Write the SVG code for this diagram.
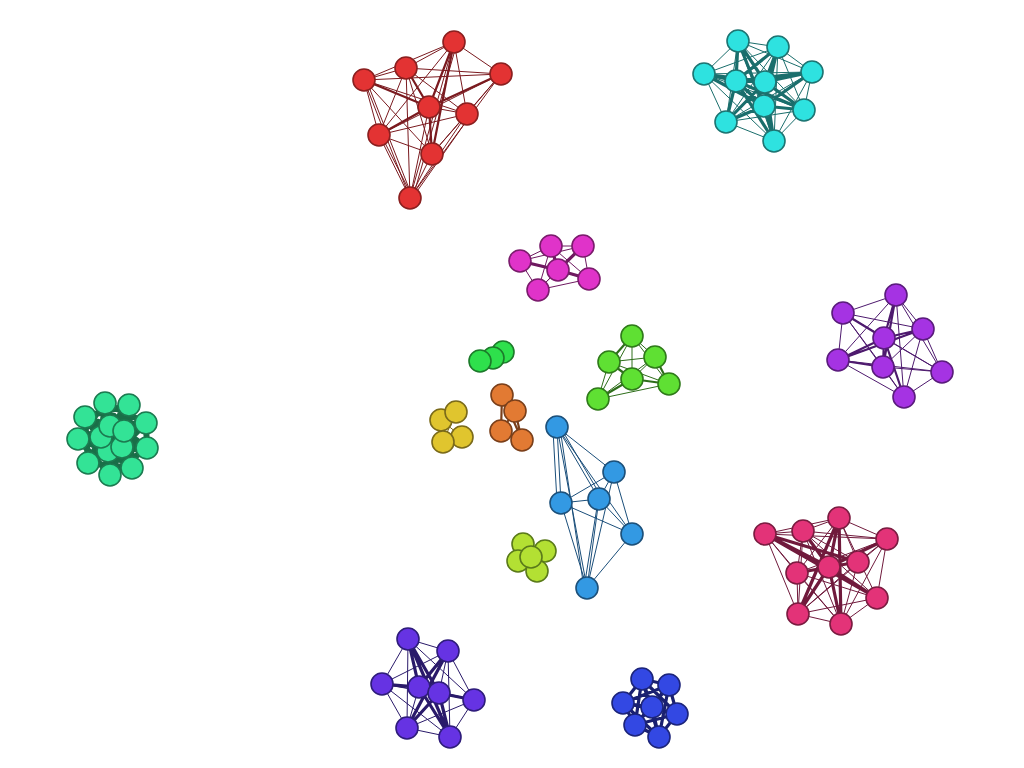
<svg xmlns="http://www.w3.org/2000/svg" width="1024" height="768" viewBox="0 0 1024 768">
<style>
circle{stroke-width:1.6}
path{fill:none;stroke-linecap:round;stroke-linejoin:round}
.red circle{fill:#e33333;stroke:#8a1f1f}
.cyan circle{fill:#2ee2e0;stroke:#1d7472}
.mag circle{fill:#e033c9;stroke:#7a1c6c}
.vio circle{fill:#a533e3;stroke:#5a1c7c}
.grn circle{fill:#2ee04c;stroke:#1c7a2a}
.yel circle{fill:#e0c52e;stroke:#7a6a1a}
.org circle{fill:#e27a33;stroke:#7a3f1a}
.lgr circle{fill:#5fe033;stroke:#2f7a1a}
.sea circle{fill:#33e396;stroke:#1c7a50}
.lbl circle{fill:#3399e3;stroke:#1c507a}
.pnk circle{fill:#e33378;stroke:#7a1c40}
.ind circle{fill:#6633e3;stroke:#2e1c7a}
.blu circle{fill:#3348e3;stroke:#1c247a}
.ygr circle{fill:#b3e033;stroke:#5a7a1a}
.e-red{stroke:#7a1a1f}
.e-cyan{stroke:#1a6e6c}
.e-mag{stroke:#6e1a60}
.e-vio{stroke:#4e1a6e}
.e-lgr{stroke:#2e6e1a}
.e-lbl{stroke:#1a4e7a}
.e-pnk{stroke:#701a3c}
.e-ind{stroke:#2a1a6a}
.e-blu{stroke:#1a2070}
.e-sea{stroke:#1a6e48}
.e-org{stroke:#7a3f1a}
.e-yel{stroke:#7a6a1a}
.t1{stroke-width:1}
.t2{stroke-width:2.2}
.t3{stroke-width:3.2}
.t5{stroke-width:6}
</style>
<rect width="1024" height="768" fill="#ffffff"/>
<g id="connectors">
<path class="e-red t1" d="M454 42L406 68M454 42L364 80M454 42L501 74M454 42L467 114M454 42L379 135M454 42L410 198M406 68L364 80M406 68L501 74M406 68L467 114M406 68L379 135M406 68L432 154M406 68L410 198M364 80L501 74M364 80L467 114M364 80L379 135M364 80L432 154M364 80L410 198M501 74L467 114M501 74L379 135M501 74L432 154M501 74L410 198M429 107L467 114M429 107L410 198M467 114L379 135M467 114L432 154M467 114L410 198M379 135L432 154M379 135L410 198M432 154L410 198M367 82L412 196M457 43L413 197M382 137L412 196M470 116L413 197"/>
<path class="e-red t2" d="M454 42L429 107M454 42L432 154M406 68L429 107M364 80L429 107M501 74L429 107M429 107L379 135M429 107L432 154"/>
<path class="e-cyan t1" d="M738 41L778 47M738 41L704 74M738 41L812 72M738 41L804 110M738 41L726 122M738 41L774 141M778 47L704 74M778 47L812 72M778 47L804 110M778 47L726 122M778 47L774 141M704 74L812 72M704 74L804 110M704 74L726 122M704 74L774 141M812 72L804 110M812 72L726 122M812 72L774 141M804 110L726 122M804 110L774 141M726 122L774 141"/>
<path class="e-cyan t3" d="M736 81L738 41M736 81L778 47M736 81L704 74M736 81L812 72M736 81L765 82M736 81L804 110M736 81L764 106M736 81L726 122M736 81L774 141M765 82L738 41M765 82L778 47M765 82L704 74M765 82L812 72M765 82L804 110M765 82L764 106M765 82L726 122M765 82L774 141M764 106L738 41M764 106L778 47M764 106L704 74M764 106L812 72M764 106L804 110M764 106L726 122M764 106L774 141"/>
<path class="e-mag t1" d="M520 261L551 246M520 261L538 290M520 261L583 246M551 246L583 246M551 246L538 290M551 246L589 279M583 246L589 279M583 246L538 290M538 290L589 279M520 261L589 279M558 270L538 290"/>
<path class="e-mag t3" d="M520 261L558 270M551 246L558 270M583 246L558 270M558 270L589 279"/>
<path class="e-vio t1" d="M896 295L843 313M896 295L923 329M896 295L838 360M896 295L942 372M896 295L904 397M843 313L923 329M843 313L838 360M843 313L942 372M843 313L904 397M923 329L838 360M923 329L883 367M923 329L942 372M923 329L904 397M838 360L942 372M838 360L904 397M883 367L942 372M883 367L904 397M942 372L904 397M884 338L942 372M843 313L883 367"/>
<path class="e-vio t2" d="M896 295L884 338M896 295L883 367M884 338L843 313M884 338L923 329M884 338L838 360M884 338L883 367M884 338L904 397M838 360L883 367M838 360L923 329"/>
<path class="e-lgr t1" d="M632 336L655 357M632 336L669 384M632 336L598 399M609 362L655 357M609 362L669 384M655 357L632 379M655 357L598 399M598 399L669 384M609 362L598 399M632 336L632 379"/>
<path class="e-lgr t2" d="M632 336L609 362M609 362L632 379M632 379L669 384M632 379L598 399M655 357L669 384"/>
<path class="e-lbl t1" d="M557 427L614 472M557 427L561 503M557 427L599 499M557 427L632 534M557 427L587 588M614 472L561 503M614 472L599 499M614 472L632 534M614 472L587 588M561 503L599 499M561 503L632 534M561 503L587 588M599 499L632 534M599 499L587 588M632 534L587 588M553 430L557 502M560 428L584 588M562 430L602 498M598 501L584 588"/>
<path class="e-pnk t1" d="M765 534L803 531M765 534L839 518M765 534L887 539M765 534L797 573M765 534L798 614M765 534L841 624M803 531L839 518M803 531L887 539M803 531L797 573M803 531L858 562M803 531L798 614M803 531L841 624M839 518L887 539M839 518L797 573M839 518L858 562M839 518L877 598M887 539L797 573M887 539L858 562M887 539L877 598M887 539L798 614M887 539L841 624M797 573L858 562M797 573L877 598M797 573L798 614M797 573L841 624M858 562L798 614M858 562L841 624M877 598L798 614M877 598L841 624M798 614L841 624M803 531L877 598"/>
<path class="e-pnk t3" d="M829 567L765 534M829 567L803 531M829 567L839 518M829 567L887 539M829 567L797 573M829 567L858 562M829 567L877 598M829 567L798 614M829 567L841 624M765 534L877 598M765 534L858 562M839 518L798 614M839 518L841 624"/>
<path class="e-ind t1" d="M408 639L448 651M408 639L382 684M408 639L474 700M408 639L407 728M448 651L382 684M448 651L474 700M448 651L450 737M448 651L439 693M382 684L439 693M382 684L407 728M382 684L450 737M382 684L474 700M419 687L474 700M419 687L407 728M474 700L407 728M474 700L450 737M407 728L450 737"/>
<path class="e-ind t3" d="M408 639L419 687M408 639L439 693M408 639L450 737M448 651L419 687M448 651L407 728M382 684L419 687M419 687L439 693M439 693L474 700M419 687L450 737M439 693L407 728M439 693L450 737"/>
<path class="e-blu t3" d="M642 679L669 685M642 679L623 703M642 679L652 707M642 679L677 714M642 679L635 725M642 679L659 737M669 685L623 703M669 685L652 707M669 685L677 714M669 685L635 725M669 685L659 737M623 703L652 707M623 703L677 714M623 703L635 725M623 703L659 737M652 707L677 714M652 707L635 725M652 707L659 737M677 714L635 725M677 714L659 737M635 725L659 737"/>
<path class="e-sea t5" d="M105 403L110 426L105 403L124 431L105 403L101 437L105 403L122 447L105 403L108 451M129 405L110 426L129 405L124 431L129 405L101 437L129 405L122 447L129 405L108 451M85 417L110 426L85 417L124 431L85 417L101 437L85 417L122 447L85 417L108 451M146 423L110 426L146 423L124 431L146 423L101 437L146 423L122 447L146 423L108 451M78 439L110 426L78 439L124 431L78 439L101 437L78 439L122 447L78 439L108 451M147 448L110 426L147 448L124 431L147 448L101 437L147 448L122 447L147 448L108 451M88 463L110 426L88 463L124 431L88 463L101 437L88 463L122 447L88 463L108 451M132 468L110 426L132 468L124 431L132 468L101 437L132 468L122 447L132 468L108 451M110 475L110 426L110 475L124 431L110 475L101 437L110 475L122 447L110 475L108 451M110 426L124 431L101 437L122 447L108 451L110 426L122 447M124 431L101 437L108 451M105 403L146 423L147 448L110 475L78 439L105 403M129 405L85 417L88 463L132 468L129 405"/>
<path class="e-org t2" d="M502 395L501 431M515 411L522 440M502 395L522 440M515 411L501 431"/>
<path class="e-yel t1" d="M441 420L462 437M456 412L443 442"/>
</g>
<g class="red">
<g id="red-1"><circle cx="454" cy="42" r="11"/></g>
<g id="red-2"><circle cx="406" cy="68" r="11"/></g>
<g id="red-3"><circle cx="364" cy="80" r="11"/></g>
<g id="red-4"><circle cx="501" cy="74" r="11"/></g>
<g id="red-5"><circle cx="429" cy="107" r="11"/></g>
<g id="red-6"><circle cx="467" cy="114" r="11"/></g>
<g id="red-7"><circle cx="379" cy="135" r="11"/></g>
<g id="red-8"><circle cx="432" cy="154" r="11"/></g>
<g id="red-9"><circle cx="410" cy="198" r="11"/></g>
</g>
<g class="cyan">
<g id="cyan-1"><circle cx="738" cy="41" r="11"/></g>
<g id="cyan-2"><circle cx="778" cy="47" r="11"/></g>
<g id="cyan-3"><circle cx="704" cy="74" r="11"/></g>
<g id="cyan-4"><circle cx="812" cy="72" r="11"/></g>
<g id="cyan-5"><circle cx="736" cy="81" r="11"/></g>
<g id="cyan-6"><circle cx="765" cy="82" r="11"/></g>
<g id="cyan-7"><circle cx="804" cy="110" r="11"/></g>
<g id="cyan-8"><circle cx="764" cy="106" r="11"/></g>
<g id="cyan-9"><circle cx="726" cy="122" r="11"/></g>
<g id="cyan-10"><circle cx="774" cy="141" r="11"/></g>
</g>
<g class="mag">
<g id="mag-1"><circle cx="520" cy="261" r="11"/></g>
<g id="mag-2"><circle cx="551" cy="246" r="11"/></g>
<g id="mag-3"><circle cx="583" cy="246" r="11"/></g>
<g id="mag-4"><circle cx="558" cy="270" r="11"/></g>
<g id="mag-5"><circle cx="589" cy="279" r="11"/></g>
<g id="mag-6"><circle cx="538" cy="290" r="11"/></g>
</g>
<g class="vio">
<g id="vio-1"><circle cx="896" cy="295" r="11"/></g>
<g id="vio-2"><circle cx="843" cy="313" r="11"/></g>
<g id="vio-3"><circle cx="923" cy="329" r="11"/></g>
<g id="vio-4"><circle cx="884" cy="338" r="11"/></g>
<g id="vio-5"><circle cx="838" cy="360" r="11"/></g>
<g id="vio-6"><circle cx="883" cy="367" r="11"/></g>
<g id="vio-7"><circle cx="942" cy="372" r="11"/></g>
<g id="vio-8"><circle cx="904" cy="397" r="11"/></g>
</g>
<g class="grn">
<g id="grn-1"><circle cx="503" cy="352" r="11"/></g>
<g id="grn-2"><circle cx="493" cy="358" r="11"/></g>
<g id="grn-3"><circle cx="480" cy="361" r="11"/></g>
</g>
<g class="yel">
<g id="yel-1"><circle cx="441" cy="420" r="11"/></g>
<g id="yel-2"><circle cx="456" cy="412" r="11"/></g>
<g id="yel-3"><circle cx="462" cy="437" r="11"/></g>
<g id="yel-4"><circle cx="443" cy="442" r="11"/></g>
</g>
<g class="org">
<g id="org-1"><circle cx="502" cy="395" r="11"/></g>
<g id="org-2"><circle cx="515" cy="411" r="11"/></g>
<g id="org-3"><circle cx="501" cy="431" r="11"/></g>
<g id="org-4"><circle cx="522" cy="440" r="11"/></g>
</g>
<g class="lgr">
<g id="lgr-1"><circle cx="632" cy="336" r="11"/></g>
<g id="lgr-2"><circle cx="609" cy="362" r="11"/></g>
<g id="lgr-3"><circle cx="655" cy="357" r="11"/></g>
<g id="lgr-4"><circle cx="632" cy="379" r="11"/></g>
<g id="lgr-5"><circle cx="669" cy="384" r="11"/></g>
<g id="lgr-6"><circle cx="598" cy="399" r="11"/></g>
</g>
<g class="sea">
<g id="sea-1"><circle cx="105" cy="403" r="11"/></g>
<g id="sea-2"><circle cx="129" cy="405" r="11"/></g>
<g id="sea-3"><circle cx="85" cy="417" r="11"/></g>
<g id="sea-4"><circle cx="146" cy="423" r="11"/></g>
<g id="sea-5"><circle cx="78" cy="439" r="11"/></g>
<g id="sea-6"><circle cx="147" cy="448" r="11"/></g>
<g id="sea-7"><circle cx="88" cy="463" r="11"/></g>
<g id="sea-8"><circle cx="132" cy="468" r="11"/></g>
<g id="sea-9"><circle cx="110" cy="475" r="11"/></g>
<g id="sea-10"><circle cx="108" cy="451" r="11"/></g>
<g id="sea-11"><circle cx="122" cy="447" r="11"/></g>
<g id="sea-12"><circle cx="101" cy="437" r="11"/></g>
<g id="sea-13"><circle cx="110" cy="426" r="11"/></g>
<g id="sea-14"><circle cx="124" cy="431" r="11"/></g>
</g>
<g class="lbl">
<g id="lbl-1"><circle cx="557" cy="427" r="11"/></g>
<g id="lbl-2"><circle cx="614" cy="472" r="11"/></g>
<g id="lbl-3"><circle cx="561" cy="503" r="11"/></g>
<g id="lbl-4"><circle cx="599" cy="499" r="11"/></g>
<g id="lbl-5"><circle cx="632" cy="534" r="11"/></g>
<g id="lbl-6"><circle cx="587" cy="588" r="11"/></g>
</g>
<g class="ygr">
<g id="ygr-1"><circle cx="545" cy="551" r="11"/></g>
<g id="ygr-2"><circle cx="523" cy="544" r="11"/></g>
<g id="ygr-3"><circle cx="518" cy="561" r="11"/></g>
<g id="ygr-4"><circle cx="537" cy="571" r="11"/></g>
<g id="ygr-5"><circle cx="531" cy="557" r="11"/></g>
</g>
<g class="pnk">
<g id="pnk-1"><circle cx="765" cy="534" r="11"/></g>
<g id="pnk-2"><circle cx="803" cy="531" r="11"/></g>
<g id="pnk-3"><circle cx="839" cy="518" r="11"/></g>
<g id="pnk-4"><circle cx="887" cy="539" r="11"/></g>
<g id="pnk-5"><circle cx="797" cy="573" r="11"/></g>
<g id="pnk-6"><circle cx="829" cy="567" r="11"/></g>
<g id="pnk-7"><circle cx="858" cy="562" r="11"/></g>
<g id="pnk-8"><circle cx="877" cy="598" r="11"/></g>
<g id="pnk-9"><circle cx="798" cy="614" r="11"/></g>
<g id="pnk-10"><circle cx="841" cy="624" r="11"/></g>
</g>
<g class="ind">
<g id="ind-1"><circle cx="408" cy="639" r="11"/></g>
<g id="ind-2"><circle cx="448" cy="651" r="11"/></g>
<g id="ind-3"><circle cx="382" cy="684" r="11"/></g>
<g id="ind-4"><circle cx="419" cy="687" r="11"/></g>
<g id="ind-5"><circle cx="439" cy="693" r="11"/></g>
<g id="ind-6"><circle cx="474" cy="700" r="11"/></g>
<g id="ind-7"><circle cx="407" cy="728" r="11"/></g>
<g id="ind-8"><circle cx="450" cy="737" r="11"/></g>
</g>
<g class="blu">
<g id="blu-1"><circle cx="642" cy="679" r="11"/></g>
<g id="blu-2"><circle cx="669" cy="685" r="11"/></g>
<g id="blu-3"><circle cx="623" cy="703" r="11"/></g>
<g id="blu-4"><circle cx="677" cy="714" r="11"/></g>
<g id="blu-5"><circle cx="635" cy="725" r="11"/></g>
<g id="blu-6"><circle cx="659" cy="737" r="11"/></g>
<g id="blu-7"><circle cx="652" cy="707" r="11"/></g>
</g>
</svg>
